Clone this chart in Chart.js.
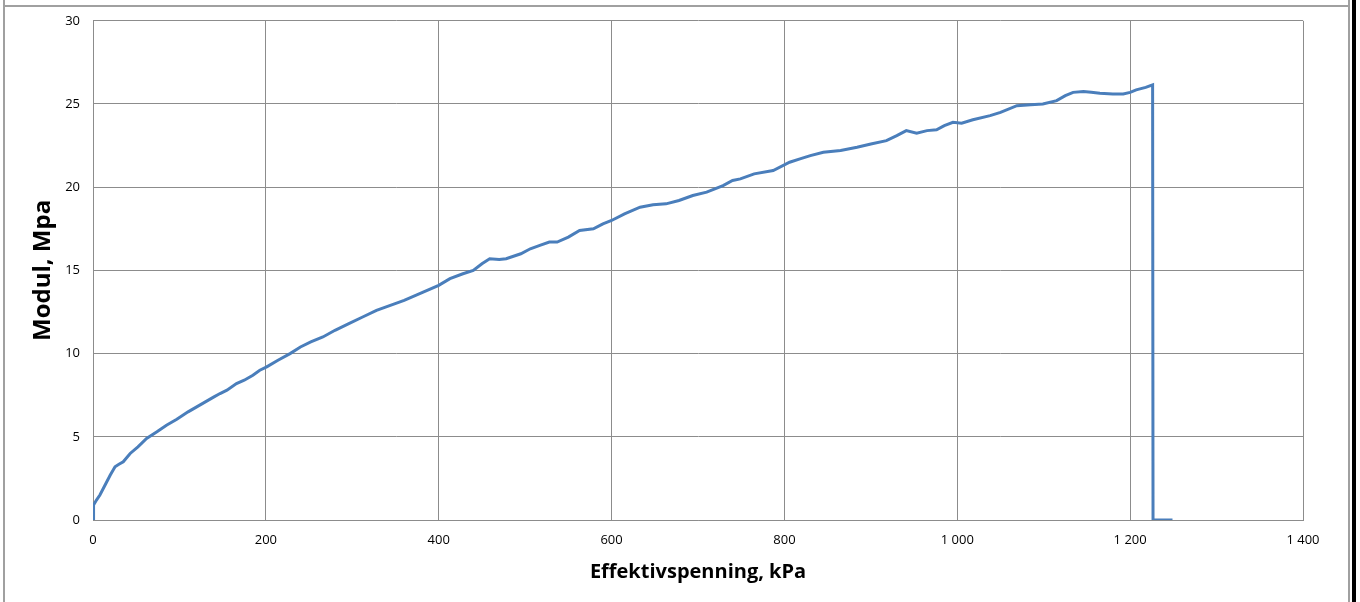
<!DOCTYPE html>
<html>
<head>
<meta charset="utf-8">
<script src="https://cdn.jsdelivr.net/npm/chart.js@4/dist/chart.umd.min.js"></script>
<style>
  html, body { margin: 0; padding: 0; background: #fff; }
  #wrap { position: relative; width: 1360px; height: 602px; overflow: hidden; }
  #wrap canvas { position: absolute; left: 0; top: 0; }
  .ln { position: absolute; background: #a0a0a0; }
</style>
</head>
<body>
<div id="wrap">
  <canvas id="modulChart" width="1360" height="602"></canvas>
  <div class="ln" style="left:3px;top:0;width:2px;height:602px"></div>
  <div class="ln" style="left:3px;top:5px;width:1347px;height:2px"></div>
  <div class="ln" style="left:1348px;top:0;width:2px;height:602px"></div>
  <div class="ln" style="left:1352px;top:0;width:4px;height:602px;background:#000"></div>
</div>
<script>
// Effektivspenning (kPa) and modul (MPa)
var stressKPa = [0, 0.3, 1, 4, 8, 14, 20, 25.5, 30, 35, 43, 52, 62, 74, 85, 97, 110,
  120, 130, 140, 147, 155, 166, 175, 185, 193, 201, 214, 228, 240, 252, 266, 280, 296, 312, 328, 344,
  360, 382, 400, 413, 428, 440, 450, 459, 470, 478, 495, 506, 517, 528, 537, 550, 563, 579, 590, 600,
  615, 633, 648, 663, 678, 694, 710, 729, 740, 749, 765, 787, 806, 818, 830, 845, 865, 884, 900, 918,
  930, 941, 953, 965, 976, 985, 995, 1005, 1018, 1038, 1050, 1069, 1085, 1099, 1115, 1125, 1134, 1146,
  1155, 1165, 1180, 1192, 1200, 1207, 1218, 1226, 1226.5, 1249];
var modulMPa = [0, 0.5, 0.9, 1.2, 1.5, 2.1, 2.7, 3.2, 3.35, 3.5, 4.0, 4.4, 4.9, 5.3, 5.7, 6.05, 6.5,
  6.8, 7.1, 7.4, 7.6, 7.8, 8.2, 8.4, 8.7, 9.0, 9.2, 9.6, 10.0, 10.4, 10.7, 11.0, 11.4, 11.8, 12.2, 12.6, 12.9,
  13.2, 13.7, 14.1, 14.5, 14.8, 15.0, 15.4, 15.7, 15.65, 15.7, 16.0, 16.3, 16.5, 16.7, 16.7, 17.0, 17.4, 17.5, 17.8, 18.0,
  18.4, 18.8, 18.95, 19.0, 19.2, 19.5, 19.7, 20.1, 20.4, 20.5, 20.8, 21.0, 21.5, 21.7, 21.9, 22.1, 22.2, 22.4, 22.6, 22.8,
  23.1, 23.4, 23.25, 23.4, 23.45, 23.7, 23.9, 23.85, 24.05, 24.3, 24.5, 24.9, 24.95, 25.0, 25.2, 25.5, 25.7, 25.75,
  25.7, 25.65, 25.6, 25.6, 25.7, 25.85, 26.0, 26.15, 0, 0];

var xTickLabels = ['0', '200', '400', '600', '800', '1 000', '1 200', '1 400'];
var yTickLabels = ['0', '5', '10', '15', '20', '25', '30'];

var points = stressKPa.map(function (x, i) { return { x: x, y: modulMPa[i] }; });

var gridColor = '#8c8c8c';
var tickFont = { family: 'Open Sans', size: 13 };

var ctx = document.getElementById('modulChart').getContext('2d');
var modulChart = new Chart(ctx, {
    type: 'line',
    data: {
        datasets: [{
            label: 'Modul',
            data: points,
            borderColor: '#4a7ebb',
            borderWidth: 3,
            pointRadius: 0,
            tension: 0,
            fill: false
        }]
    },
    options: {
        responsive: false,
        animation: false,
        layout: { padding: { top: 20, right: 57, left: 0, bottom: 0 } },
        plugins: {
            legend: { display: false },
            tooltip: { enabled: false }
        },
        scales: {
            x: {
                type: 'linear',
                min: 0,
                max: 1400,
                ticks: {
                    stepSize: 200,
                    padding: 12,
                    color: '#000',
                    font: tickFont,
                    maxRotation: 0,
                    callback: function (v) { return xTickLabels[v / 200]; }
                },
                grid: { color: gridColor, drawTicks: false },
                border: { color: gridColor },
                title: {
                    display: true,
                    text: 'Effektivspenning, kPa',
                    color: '#000',
                    font: { family: 'Open Sans', size: 20, weight: 'bold' },
                    padding: { top: 0, bottom: 18 }
                },
                afterFit: function (scale) { scale.height = 82; }
            },
            y: {
                min: 0,
                max: 30,
                ticks: {
                    stepSize: 5,
                    padding: 13,
                    color: '#000',
                    font: tickFont,
                    callback: function (v) { return yTickLabels[v / 5]; }
                },
                grid: { color: gridColor, drawTicks: false },
                border: { color: gridColor },
                title: {
                    display: true,
                    text: 'Modul, Mpa',
                    color: '#000',
                    font: { family: 'Open Sans', size: 24, weight: 'bold' },
                    padding: { top: 29, bottom: 0 }
                },
                afterFit: function (scale) { scale.width = 93; }
            }
        }
    }
});
</script>
</body>
</html>
